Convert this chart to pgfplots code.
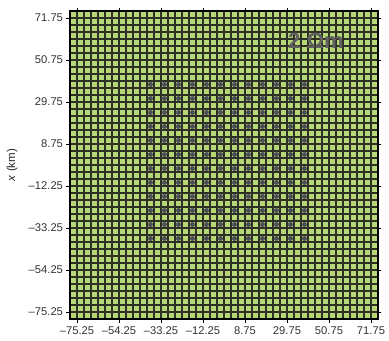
\documentclass[border=0pt]{standalone}
\usepackage{fontspec}
\setmainfont{Liberation Sans}
\usepackage{pgfplots}
\pgfplotsset{compat=1.18}
\definecolor{cellgreen}{RGB}{181,215,118}
\definecolor{meshline}{RGB}{46,48,40}
\definecolor{station}{RGB}{76,78,88}
\definecolor{rhotext}{RGB}{96,96,96}
\begin{document}
\begin{tikzpicture}
% fixed page frame around the square 44 x 44 cell mesh
\path[use as bounding box] (-70bp,-22bp) rectangle (319bp,319bp);
\begin{axis}[
  at={(0,0)}, anchor=south west,
  scale only axis,
  width=308bp, height=308bp,
  xmin=-78.75, xmax=75.25,
  ymin=-78.75, ymax=75.25,
  axis background/.style={fill=cellgreen},
  xtick={-75.25,-54.25,-33.25,-12.25,8.75,29.75,50.75,71.75},
  ytick={-75.25,-54.25,-33.25,-12.25,8.75,29.75,50.75,71.75},
  xticklabels={--75.25,--54.25,--33.25,--12.25,8.75,29.75,50.75,71.75},
  yticklabels={--75.25,--54.25,--33.25,--12.25,8.75,29.75,50.75,71.75},
  minor xtick={-75.25,-71.75,...,71.75},
  minor ytick={-75.25,-71.75,...,71.75},
  minor tick length=0pt,
  grid=minor,
  minor grid style={draw=meshline, line width=1.6bp},
  tick align=outside,
  tick pos=both,
  major tick length=3.5bp,
  tick style={black, line width=0.6bp},
  axis line style={black, line width=2bp},
  ticklabel style={font=\fontsize{11.2bp}{13bp}\selectfont, text=black!80},
  xticklabel style={yshift=-1bp},
  ylabel={\textit{x} (km)},
  ylabel style={at={(axis description cs:-0.188,0.5)}, anchor=center,
                font=\fontsize{11.5bp}{13bp}\selectfont, text=black!85},
]
% 12 x 12 array of stations, 7 km spacing, centred in mesh cells
\addplot[only marks, mark=*, mark size=2.3bp, mark options={fill=station, draw=station, line width=0.3bp}] coordinates {
(-38.5,38.5) (-31.5,38.5) (-24.5,38.5) (-17.5,38.5) (-10.5,38.5) (-3.5,38.5) (3.5,38.5) (10.5,38.5) (17.5,38.5) (24.5,38.5) (31.5,38.5) (38.5,38.5)
(-38.5,31.5) (-31.5,31.5) (-24.5,31.5) (-17.5,31.5) (-10.5,31.5) (-3.5,31.5) (3.5,31.5) (10.5,31.5) (17.5,31.5) (24.5,31.5) (31.5,31.5) (38.5,31.5)
(-38.5,24.5) (-31.5,24.5) (-24.5,24.5) (-17.5,24.5) (-10.5,24.5) (-3.5,24.5) (3.5,24.5) (10.5,24.5) (17.5,24.5) (24.5,24.5) (31.5,24.5) (38.5,24.5)
(-38.5,17.5) (-31.5,17.5) (-24.5,17.5) (-17.5,17.5) (-10.5,17.5) (-3.5,17.5) (3.5,17.5) (10.5,17.5) (17.5,17.5) (24.5,17.5) (31.5,17.5) (38.5,17.5)
(-38.5,10.5) (-31.5,10.5) (-24.5,10.5) (-17.5,10.5) (-10.5,10.5) (-3.5,10.5) (3.5,10.5) (10.5,10.5) (17.5,10.5) (24.5,10.5) (31.5,10.5) (38.5,10.5)
(-38.5,3.5) (-31.5,3.5) (-24.5,3.5) (-17.5,3.5) (-10.5,3.5) (-3.5,3.5) (3.5,3.5) (10.5,3.5) (17.5,3.5) (24.5,3.5) (31.5,3.5) (38.5,3.5)
(-38.5,-3.5) (-31.5,-3.5) (-24.5,-3.5) (-17.5,-3.5) (-10.5,-3.5) (-3.5,-3.5) (3.5,-3.5) (10.5,-3.5) (17.5,-3.5) (24.5,-3.5) (31.5,-3.5) (38.5,-3.5)
(-38.5,-10.5) (-31.5,-10.5) (-24.5,-10.5) (-17.5,-10.5) (-10.5,-10.5) (-3.5,-10.5) (3.5,-10.5) (10.5,-10.5) (17.5,-10.5) (24.5,-10.5) (31.5,-10.5) (38.5,-10.5)
(-38.5,-17.5) (-31.5,-17.5) (-24.5,-17.5) (-17.5,-17.5) (-10.5,-17.5) (-3.5,-17.5) (3.5,-17.5) (10.5,-17.5) (17.5,-17.5) (24.5,-17.5) (31.5,-17.5) (38.5,-17.5)
(-38.5,-24.5) (-31.5,-24.5) (-24.5,-24.5) (-17.5,-24.5) (-10.5,-24.5) (-3.5,-24.5) (3.5,-24.5) (10.5,-24.5) (17.5,-24.5) (24.5,-24.5) (31.5,-24.5) (38.5,-24.5)
(-38.5,-31.5) (-31.5,-31.5) (-24.5,-31.5) (-17.5,-31.5) (-10.5,-31.5) (-3.5,-31.5) (3.5,-31.5) (10.5,-31.5) (17.5,-31.5) (24.5,-31.5) (31.5,-31.5) (38.5,-31.5)
(-38.5,-38.5) (-31.5,-38.5) (-24.5,-38.5) (-17.5,-38.5) (-10.5,-38.5) (-3.5,-38.5) (3.5,-38.5) (10.5,-38.5) (17.5,-38.5) (24.5,-38.5) (31.5,-38.5) (38.5,-38.5)
};
\node[anchor=base, font=\bfseries\fontsize{22bp}{24bp}\selectfont, text=rhotext] at (axis cs:44.25,56.6) {2 Ωm};
\end{axis}
\end{tikzpicture}
\end{document}
